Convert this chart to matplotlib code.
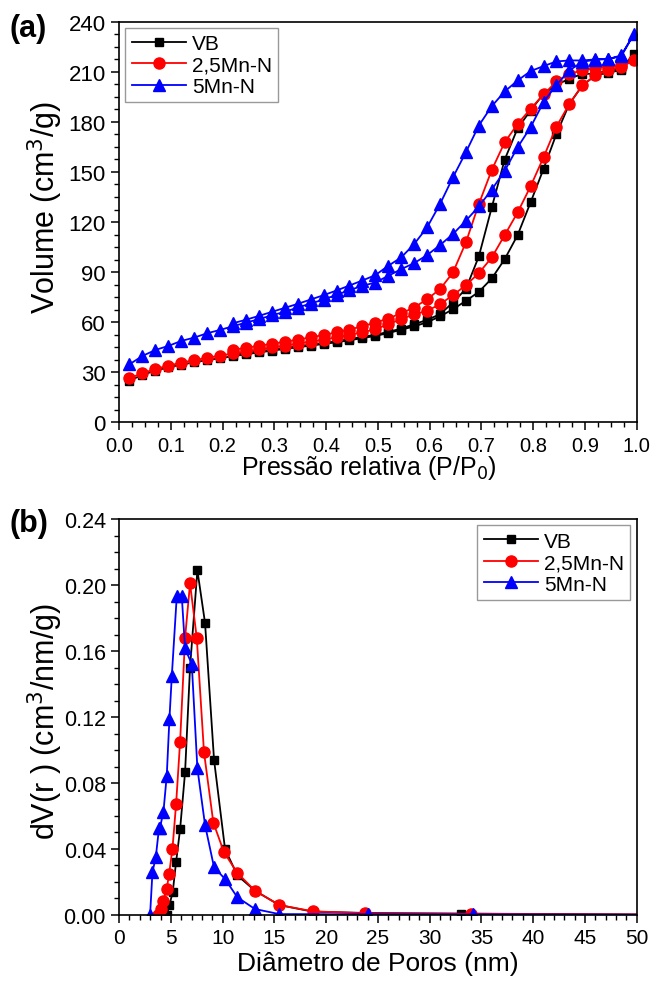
import matplotlib
matplotlib.use('Agg')
import matplotlib.pyplot as plt
from matplotlib.ticker import MultipleLocator, FormatStrFormatter

plt.rcParams['font.family'] = ['Liberation Sans', 'DejaVu Sans']

# (a) isotherms: relative pressure grid (adsorption points)
p_ads = [0.02, 0.045, 0.07, 0.095, 0.12, 0.145, 0.17, 0.195, 0.22, 0.245,
         0.27, 0.295, 0.32, 0.345, 0.37, 0.395, 0.42, 0.445, 0.47, 0.495,
         0.52, 0.545, 0.57, 0.595, 0.62, 0.645, 0.67, 0.695, 0.72, 0.745,
         0.77, 0.795, 0.82, 0.845, 0.87, 0.895, 0.92, 0.945, 0.97, 0.995]
# desorption goes back down from 0.97 to 0.22
p_des = p_ads[38:7:-1]

vb_ads = [25, 28.5, 31, 33, 34.6, 36, 37.3, 38.5, 39.7, 40.8,
          41.9, 43, 44, 45, 46, 47, 48, 49.2, 50.5, 51.8,
          53.5, 55.5, 57.5, 60, 63.5, 67.8, 72.8, 78.2, 86.2, 97.8,
          112.2, 131.8, 151.8, 172.8, 190.8, 201.8, 207.8, 209.5, 211, 220.8]
vb_des = [211.8, 210.8, 208.8, 208.8, 205.8, 202.2, 196.8, 186.8, 176.2, 157.4,
          128.8, 99.4, 80, 71.8, 64.8, 61.4, 58.8, 56.2, 54.2, 52.5,
          51.2, 49.9, 48.7, 47.6, 46.6, 45.6, 44.6, 43.6, 42.6, 41.6, 40.6]

mn25_ads = [26.5, 29.5, 32, 34, 35.8, 37.3, 38.7, 40, 41.3, 42.5,
            43.7, 44.9, 46, 47.2, 48.4, 49.6, 51, 52.4, 54, 55.8,
            58.8, 61.8, 64.8, 66.8, 70.8, 76.2, 82.2, 89.4, 98.8, 112.2,
            125.8, 141.4, 158.8, 177.2, 190.8, 201.8, 207.8, 211, 213, 216.8]
mn25_des = [213.8, 213, 212.4, 210.8, 208.8, 204.2, 196.4, 187.8, 178.8, 167.8,
            151.2, 130.8, 107.8, 89.8, 79.8, 73.8, 68.8, 65.4, 62.2, 59.8,
            57.6, 55.6, 53.9, 52.4, 50.9, 49.6, 48.3, 47.1, 45.9, 44.7, 43.5]

mn5_ads = [34.8, 39.8, 43.4, 45.8, 48.8, 50.8, 53.4, 55.4, 57.6, 59.8,
           61.8, 64.2, 66.2, 68.8, 71.2, 73.6, 76.4, 79.2, 81.8, 83.8,
           87.8, 91.8, 95.4, 100.2, 106.2, 112.8, 120.8, 129.4, 139.4, 150.8,
           164.8, 176.8, 191.8, 202.2, 210.8, 216, 217.2, 217.6, 219.8, 232.8]
mn5_des = [219.2, 217.8, 217.4, 216.8, 216.8, 216.2, 213.4, 210.4, 204.8, 198.2,
           189.4, 177.8, 161.8, 146.8, 130.8, 116.8, 106.8, 98.8, 93.8, 88.2,
           85, 82, 79, 76.2, 73.6, 71, 68.6, 66.2, 63.8, 61.5, 59.4]

# (b) pore size distribution
vb_d = [4.6, 4.86, 5.18, 5.5, 5.89, 6.37, 6.85, 7.56, 8.3, 9.17,
        10.23, 11.42, 13.12, 15.47, 18.7, 23.8, 33.0, 60]
vb_dv = [0, 0.006, 0.014, 0.032, 0.052, 0.0865, 0.150, 0.209, 0.177, 0.094,
         0.040, 0.024, 0.0147, 0.006, 0.002, 0.0012, 0.0008, 0.0]

mn25_d = [3.8, 4.02, 4.28, 4.6, 4.83, 5.15, 5.5, 5.89, 6.37, 6.85,
          7.5, 8.2, 9.1, 10.13, 11.42, 13.12, 15.47, 18.7, 23.8, 34.0, 60]
mn25_dv = [0, 0.0036, 0.0087, 0.0158, 0.025, 0.040, 0.067, 0.105, 0.168, 0.201,
           0.168, 0.0986, 0.056, 0.038, 0.0255, 0.0147, 0.006, 0.0022, 0.001, 0.0007, 0]

mn5_d = [2.99, 3.22, 3.54, 3.85, 3.95, 4.28, 4.6, 4.86, 5.09, 5.57,
         6.05, 6.37, 7.02, 7.56, 8.3, 9.17, 10.23, 11.42, 13.12, 15.47,
         24.0, 34.2, 60]
mn5_dv = [0, 0.026, 0.035, 0.0525, 0.053, 0.0626, 0.0844, 0.119, 0.145, 0.1935,
          0.1935, 0.1616, 0.152, 0.0889, 0.0545, 0.0289, 0.0218, 0.0107, 0.0036, 0.0005,
          0.0004, 0.0003, 0]

labels = ['VB', '2,5Mn-N', '5Mn-N']
colors = ['black', 'red', 'blue']
markers = ['s', 'o', '^']
msizes = [6, 8, 8]

fig = plt.figure(figsize=(6.51, 9.87), dpi=100)
ax1 = fig.add_axes([0.183, 0.571, 0.795, 0.406])
ax2 = fig.add_axes([0.183, 0.072, 0.795, 0.401])

iso = [(vb_ads, vb_des), (mn25_ads, mn25_des), (mn5_ads, mn5_des)]
for (ads, des), lab, c, m, ms in zip(iso, labels, colors, markers, msizes):
    ax1.plot(p_ads + p_des, ads + des, color=c, marker=m, ms=ms, lw=1.3, label=lab)

psd = [(vb_d, vb_dv), (mn25_d, mn25_dv), (mn5_d, mn5_dv)]
for (d, dv), lab, c, m, ms in zip(psd, labels, colors, markers, msizes):
    ax2.plot(d, dv, color=c, marker=m, ms=ms, lw=1.3, label=lab)

ax1.set_xlim(0, 1.0)
ax1.set_ylim(0, 240)
ax1.xaxis.set_major_locator(MultipleLocator(0.1))
ax1.xaxis.set_minor_locator(MultipleLocator(0.025))
ax1.yaxis.set_major_locator(MultipleLocator(30))
ax1.yaxis.set_minor_locator(MultipleLocator(7.5))
ax1.xaxis.set_major_formatter(FormatStrFormatter('%.1f'))
ax1.set_xlabel('Pressão relativa (P/P$_0$)', fontsize=18)
ax1.xaxis.set_label_coords(0.483, -0.077)
ax1.set_ylabel('Volume (cm$^3$/g)', fontsize=22)
ax1.yaxis.set_label_coords(-0.105, 0.54)

ax2.set_xlim(0, 50)
ax2.set_ylim(0, 0.24)
ax2.xaxis.set_major_locator(MultipleLocator(5))
ax2.xaxis.set_minor_locator(MultipleLocator(1))
ax2.yaxis.set_major_locator(MultipleLocator(0.04))
ax2.yaxis.set_minor_locator(MultipleLocator(0.01))
ax2.yaxis.set_major_formatter(FormatStrFormatter('%.2f'))
ax2.set_xlabel('Diâmetro de Poros (nm)', fontsize=19, labelpad=3)
ax2.set_ylabel('dV(r ) (cm$^3$/nm/g)', fontsize=22)
ax2.yaxis.set_label_coords(-0.105, 0.49)

for ax in (ax1, ax2):
    ax.tick_params(which='major', direction='out', length=6, width=1.1)
    ax.tick_params(which='minor', direction='out', length=3.5, width=1.0)
    for s in ax.spines.values():
        s.set_linewidth(1.2)
ax1.tick_params(axis='x', labelsize=14.5)
ax1.tick_params(axis='y', labelsize=16)
ax2.tick_params(axis='x', labelsize=15)
ax2.tick_params(axis='y', labelsize=15.5)

leg1 = ax1.legend(loc='upper left', fontsize=15, frameon=True, fancybox=False,
                  edgecolor='#808080', handlelength=2.6, borderpad=0.3,
                  labelspacing=0.12, handletextpad=0.3, borderaxespad=0.3)
leg1.get_frame().set_linewidth(1.0)
leg2 = ax2.legend(loc='upper right', fontsize=15, frameon=True, fancybox=False,
                  edgecolor='#808080', handlelength=2.6, borderpad=0.3,
                  labelspacing=0.12, handletextpad=0.3, borderaxespad=0.3)
leg2.get_frame().set_linewidth(1.0)

fig.text(0.015, 0.971, '(a)', fontsize=22, fontweight='bold', va='center')
fig.text(0.015, 0.469, '(b)', fontsize=22, fontweight='bold', va='center')

fig.savefig('out.png', dpi=100)
